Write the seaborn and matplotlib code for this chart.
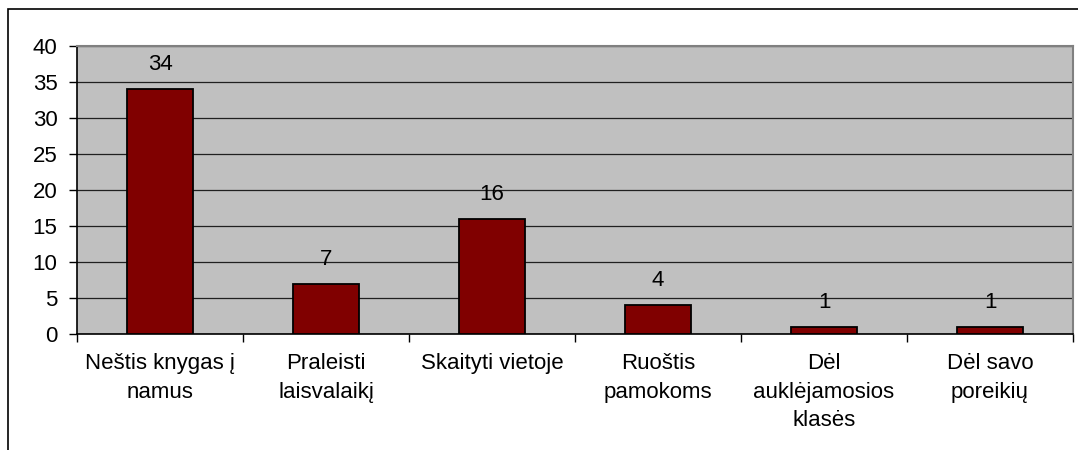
import matplotlib
matplotlib.use("Agg")
import matplotlib.pyplot as plt
import seaborn as sns
import pandas as pd
from matplotlib.patches import Rectangle

categories = ["Neštis knygas į\nnamus", "Praleisti\nlaisvalaikį", "Skaityti vietoje",
              "Ruoštis\npamokoms", "Dėl\nauklėjamosios\nklasės", "Dėl savo\nporeikių"]
values = [34, 7, 16, 4, 1, 1]
yticks = [0, 5, 10, 15, 20, 25, 30, 35, 40]

sns.set_theme(style="white")
plt.rcParams['font.family'] = ['Liberation Sans', 'DejaVu Sans']
plt.rcParams['text.color'] = 'black'
plt.rcParams['xtick.color'] = 'black'
plt.rcParams['ytick.color'] = 'black'
plt.rcParams['xtick.labelcolor'] = 'black'
plt.rcParams['ytick.labelcolor'] = 'black'

df = pd.DataFrame({"cat": categories, "val": values})

fig = plt.figure(figsize=(10.78, 4.5), dpi=100)
W, H = 1078, 450
ax = fig.add_axes([77 / W, 1 - 334 / H, (1073 - 77) / W, (334 - 46) / H])

# outer frame
fig.patches.append(Rectangle((8 / W, -0.1), 1.2, 1 - 9 / H + 0.1, transform=fig.transFigure,
                             fill=False, edgecolor="black", linewidth=1.2, zorder=0))

sns.barplot(data=df, x="cat", y="val", ax=ax, color="#800000", width=0.4,
            edgecolor="black", linewidth=1.3, saturation=1, zorder=3)

FS = 16
ax.set_facecolor("#C0C0C0")
ax.set_ylim(0, 40)
ax.set_xlim(-0.5, len(categories) - 0.5)
ax.set_yticks(yticks)
ax.set_yticklabels([str(t) for t in yticks], fontsize=FS)
ax.yaxis.grid(True, color="#202020", linewidth=0.9)
ax.set_axisbelow(True)
ax.set_xlabel("")
ax.set_ylabel("")

ax.set_xticks(range(len(categories)))
ax.set_xticklabels(categories, fontsize=FS, linespacing=1.45)
ax.tick_params(axis="x", length=0, pad=14)
ax.tick_params(axis="y", length=6, width=1, color="black", direction="out", pad=8, left=True)
ax.set_xticks([i + 0.5 for i in range(-1, len(categories))], minor=True)
ax.tick_params(axis="x", which="minor", length=6, width=1, color="black", direction="out", bottom=True)

for s in ["left", "bottom"]:
    ax.spines[s].set_color("black")
    ax.spines[s].set_linewidth(1.2)
for s in ["top", "right"]:
    ax.spines[s].set_color("#808080")
    ax.spines[s].set_linewidth(1.5)

for i, v in enumerate(values):
    ax.annotate(str(v), (i, v), xytext=(0, 10), textcoords="offset points",
                ha="center", va="bottom", fontsize=FS, color="black")

fig.savefig("out.png", dpi=100)
